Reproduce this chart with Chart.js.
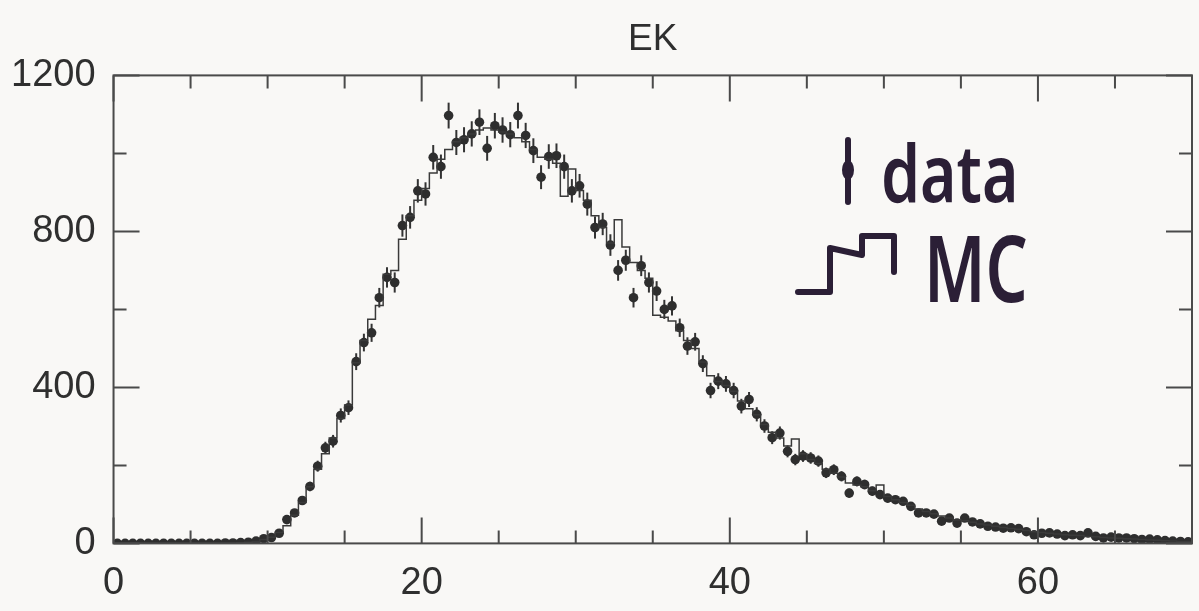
<!DOCTYPE html>
<html>
<head>
<meta charset="utf-8">
<title>EK</title>
<script src="https://cdn.jsdelivr.net/npm/chart.js@4.4.0/dist/chart.umd.min.js"></script>
<style>
  body { margin: 0; background: #f9f8f6; }
  #wrap { width: 1199px; height: 611px; position: relative; }
</style>
</head>
<body>
<div id="wrap"><canvas id="ekChart"></canvas></div>
<script>
// histogram binning (0 - 70, bins of 0.5)
var binWidth = 0.5
var xMin = 0
var xMax = 70

// measured counts per bin ("data" points)
var dataCounts = [
  0, 0, 0, 0, 0, 0, 0, 0, 0, 0, 0, 0, 0, 0,
  1, 1, 2, 3, 6, 12, 15, 26, 61, 78, 110, 146, 198, 245, 262, 328,
  348, 466, 515, 540, 630, 682, 669, 815, 836, 904, 896, 990, 966, 1097, 1028, 1035,
  1050, 1080, 1013, 1071, 1060, 1048, 1097, 1046, 1007, 939, 992, 994, 966, 904, 917, 870,
  810, 819, 765, 700, 726, 630, 712, 669, 647, 600, 609, 553, 506, 517, 461, 392,
  416, 409, 392, 352, 369, 331, 301, 271, 283, 236, 215, 224, 219, 211, 181, 189,
  172, 129, 159, 151, 134, 125, 116, 112, 108, 95, 78, 78, 75, 57, 65, 52,
  65, 55, 50, 44, 42, 39, 40, 38, 30, 22, 26, 27, 24, 20, 22, 20,
  27, 18, 14, 16, 14, 14, 12, 10, 11, 9, 7, 6, 5, 4
]

// simulation histogram ("MC" step line)
var mcCounts = [
  0, 0, 0, 0, 0, 0, 0, 0, 0, 0, 0, 0, 0, 0, 0, 0,
  1, 3, 5, 10, 16, 28, 45, 72, 105, 145, 190, 230, 270, 320, 355, 463,
  520, 575, 610, 690, 700, 780, 840, 880, 910, 950, 985, 1010, 1030, 1040, 1050, 1060,
  1065, 1060, 1055, 1050, 1040, 1030, 1010, 990, 985, 975, 890, 960, 905, 880, 840, 810,
  770, 830, 760, 720, 700, 680, 585, 580, 570, 545, 520, 500, 465, 430, 415, 405,
  390, 365, 345, 330, 305, 285, 270, 250, 268, 230, 215, 205, 190, 180, 170, 155,
  150, 145, 135, 150, 120, 112, 105, 98, 88, 82, 76, 70, 65, 60, 58, 54,
  50, 47, 44, 41, 38, 36, 33, 30, 28, 26, 24, 22, 21, 20, 18, 17,
  15, 14, 13, 12, 11, 10, 9, 8, 7, 6, 5, 5
]

var xTickLabels = [0, 20, 40, 60]
var yTickLabels = [0, 400, 800, 1200]

// build points from the arrays
let dataPoints = []
for (var i = 0; i < dataCounts.length; i++) {
  dataPoints.push({ x: xMin + binWidth * (i + 0.5), y: dataCounts[i] })
}
let mcPoints = []
for (var j = 0; j < mcCounts.length; j++) {
  mcPoints.push({ x: xMin + binWidth * j, y: mcCounts[j] })
}
mcPoints.push({ x: xMax, y: mcCounts[mcCounts.length - 1] })

var axisColor = '#4a4a4a'
var labelFont = '"Liberation Sans", Arial, sans-serif'

// error bars, frame, inward ticks and the hand-written key
const extras = {
  id: 'extras',
  beforeDatasetsDraw(chart) {
    const ctx = chart.ctx
    const xs = chart.scales.x
    const ys = chart.scales.y
    ctx.save()
    ctx.strokeStyle = '#333'
    ctx.lineWidth = 2
    for (var p of dataPoints) {
      if (p.y <= 0) continue
      let err = Math.sqrt(p.y)
      let px = xs.getPixelForValue(p.x)
      ctx.beginPath()
      ctx.moveTo(px, ys.getPixelForValue(p.y + err))
      ctx.lineTo(px, ys.getPixelForValue(Math.max(0, p.y - err)))
      ctx.stroke()
    }
    ctx.restore()
  },
  afterDraw(chart) {
    const ctx = chart.ctx
    const a = chart.chartArea
    const xs = chart.scales.x
    const ys = chart.scales.y
    ctx.save()
    ctx.strokeStyle = axisColor
    ctx.lineWidth = 2
    ctx.strokeRect(a.left, a.top, a.right - a.left, a.bottom - a.top)

    ctx.beginPath()
    for (var v = xMin; v <= xMax; v += 5) {
      let px = xs.getPixelForValue(v)
      let len = xTickLabels.includes(v) ? 26 : 13
      ctx.moveTo(px, a.bottom); ctx.lineTo(px, a.bottom - len)
      ctx.moveTo(px, a.top); ctx.lineTo(px, a.top + len)
    }
    for (var w = 0; w <= 1200; w += 200) {
      let py = ys.getPixelForValue(w)
      let len = yTickLabels.includes(w) ? 26 : 13
      ctx.moveTo(a.left, py); ctx.lineTo(a.left + len, py)
      ctx.moveTo(a.right, py); ctx.lineTo(a.right - len, py)
    }
    ctx.stroke()

    // key, drawn like the marker notes on the original
    const ink = '#2b1f36'
    ctx.strokeStyle = ink
    ctx.fillStyle = ink
    ctx.lineCap = 'round'
    ctx.lineJoin = 'round'
    ctx.lineWidth = 6
    ctx.beginPath()
    ctx.moveTo(848, 140); ctx.lineTo(848, 202)
    ctx.stroke()
    ctx.beginPath()
    ctx.ellipse(848, 170, 6, 10, 0, 0, Math.PI * 2)
    ctx.fill()

    ctx.beginPath()
    ctx.moveTo(798, 292); ctx.lineTo(830, 292); ctx.lineTo(830, 248)
    ctx.lineTo(862, 255); ctx.lineTo(862, 236); ctx.lineTo(894, 236); ctx.lineTo(894, 272)
    ctx.stroke()

    ctx.textBaseline = 'alphabetic'
    ctx.textAlign = 'left'
    ctx.save()
    ctx.translate(881, 202)
    ctx.scale(0.78, 1)
    ctx.font = '600 80px "Noto Sans"'
    ctx.fillText('data', 0, 0)
    ctx.restore()
    ctx.save()
    ctx.translate(924, 302)
    ctx.scale(0.72, 1)
    ctx.font = '600 92px "Noto Sans"'
    ctx.fillText('MC', 0, 0)
    ctx.restore()
    ctx.restore()
  }
}

var ctx = document.getElementById('ekChart')
var ekChart = new Chart(ctx, {
  type: 'scatter',
  data: {
    datasets: [{
      label: 'MC',
      type: 'line',
      data: mcPoints,
      stepped: 'before',
      borderColor: '#3a3a3a',
      borderWidth: 1.5,
      pointRadius: 0,
      fill: false
    }, {
      label: 'data',
      data: dataPoints,
      pointRadius: 4.8,
      pointBackgroundColor: '#2e2e2e',
      pointBorderWidth: 0,
      showLine: false
    }]
  },
  plugins: [extras],
  options: {
    responsive: true,
    maintainAspectRatio: false,
    animation: false,
    layout: { padding: { left: -7, right: 7, top: 10, bottom: -12 } },
    plugins: {
      legend: { display: false },
      tooltip: { enabled: false },
      title: {
        display: true,
        fullSize: false,
        text: 'EK',
        color: '#2f2f2f',
        font: { family: labelFont, size: 37, weight: 'normal' },
        padding: { top: 8, bottom: 13 }
      }
    },
    scales: {
      x: {
        type: 'linear',
        min: xMin,
        max: xMax,
        grid: { display: false, drawTicks: false, tickLength: 0 },
        border: { display: false },
        afterFit: function(scale) {
          scale.paddingRight = 0
        },
        ticks: {
          stepSize: 5,
          autoSkip: false,
          maxRotation: 0,
          padding: 17,
          color: '#2f2f2f',
          font: { family: labelFont, size: 38 },
          callback: function(value) {
            return xTickLabels.includes(value) ? String(value) : ''
          }
        }
      },
      y: {
        min: 0,
        max: 1200,
        grid: { display: false, drawTicks: false, tickLength: 0 },
        border: { display: false },
        ticks: {
          stepSize: 200,
          autoSkip: false,
          padding: 18,
          color: '#2f2f2f',
          font: { family: labelFont, size: 38 },
          callback: function(value) {
            return yTickLabels.includes(value) ? String(value) : ''
          }
        }
      }
    }
  }
})
</script>
</body>
</html>
